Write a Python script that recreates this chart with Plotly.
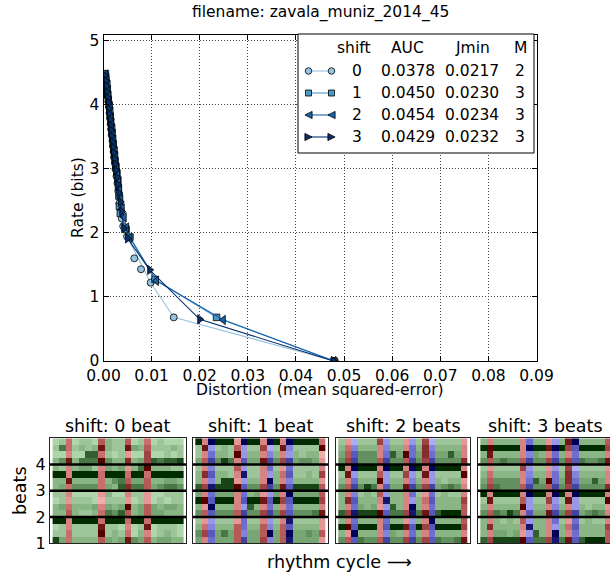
import plotly.graph_objects as go

W, H = 610, 573
FONT = "DejaVu Sans"

# ---------------- main chart data ----------------
shift_ids = [0, 1, 2, 3]
auc_vals = [0.0378, 0.0450, 0.0454, 0.0429]
jmin_vals = [0.0217, 0.0230, 0.0234, 0.0232]
m_vals = [2, 3, 3, 3]

D0 = [0.0004, 0.0005, 0.0006, 0.0008, 0.0009, 0.0011, 0.0012, 0.0013, 0.0014, 0.0015,
      0.0016, 0.0017, 0.0019, 0.0020, 0.0021, 0.0022, 0.0024, 0.0025, 0.0027, 0.0029,
      0.0031, 0.0033, 0.0036, 0.0038, 0.0041, 0.0049, 0.0098, 0.0146, 0.0481]
R0 = [4.47, 4.39, 4.31, 4.20, 4.12, 4.03, 3.95, 3.86, 3.78, 3.69,
      3.61, 3.52, 3.43, 3.34, 3.26, 3.17, 3.08, 2.99, 2.88, 2.77,
      2.64, 2.46, 2.34, 2.22, 2.10, 1.94, 1.22, 0.68, 0.00]
D0_extra = [0.0064, 0.0078]
R0_extra = [1.60, 1.43]

D1 = [0.0004, 0.0005, 0.0007, 0.0008, 0.0009, 0.0010, 0.0012, 0.0013, 0.0014, 0.0015,
      0.0017, 0.0018, 0.0019, 0.0020, 0.0022, 0.0023, 0.0024, 0.0026, 0.0028, 0.0030,
      0.0031, 0.0032, 0.0033, 0.0035, 0.0047, 0.0055, 0.0107, 0.0235, 0.0479]
R1 = [4.48, 4.40, 4.32, 4.24, 4.15, 4.07, 3.98, 3.90, 3.81, 3.73,
      3.64, 3.56, 3.47, 3.38, 3.29, 3.21, 3.12, 3.03, 2.93, 2.82,
      2.70, 2.57, 2.41, 2.30, 2.05, 1.93, 1.27, 0.68, 0.00]

D2 = [0.0004, 0.0006, 0.0007, 0.0008, 0.0010, 0.0011, 0.0012, 0.0013, 0.0015, 0.0016,
      0.0017, 0.0018, 0.0020, 0.0021, 0.0022, 0.0024, 0.0025, 0.0027, 0.0029, 0.0031,
      0.0033, 0.0036, 0.0039, 0.0043, 0.0048, 0.0055, 0.0110, 0.0249, 0.0479]
R2 = [4.46, 4.37, 4.29, 4.21, 4.13, 4.04, 3.96, 3.87, 3.79, 3.70,
      3.62, 3.53, 3.45, 3.36, 3.27, 3.19, 3.10, 3.01, 2.91, 2.79,
      2.66, 2.52, 2.38, 2.24, 2.08, 1.92, 1.25, 0.64, 0.00]

D3 = [0.0003, 0.0005, 0.0006, 0.0007, 0.0009, 0.0010, 0.0011, 0.0012, 0.0014, 0.0015,
      0.0016, 0.0017, 0.0019, 0.0020, 0.0021, 0.0023, 0.0024, 0.0026, 0.0028, 0.0030,
      0.0032, 0.0035, 0.0038, 0.0042, 0.0050, 0.0096, 0.0200, 0.0478]
R3 = [4.45, 4.36, 4.28, 4.19, 4.10, 4.02, 3.93, 3.85, 3.76, 3.67,
      3.59, 3.50, 3.41, 3.33, 3.24, 3.15, 3.06, 2.97, 2.86, 2.75,
      2.62, 2.48, 2.33, 2.07, 1.91, 1.42, 0.65, 0.00]

x_ticks = [0.00, 0.01, 0.02, 0.03, 0.04, 0.05, 0.06, 0.07, 0.08, 0.09]
y_ticks = [0, 1, 2, 3, 4, 5]

# ---------------- heatmap data (rows listed top -> bottom, digit = intensity 0..9) ----------------
panel_titles = ["shift: 0 beat", "shift: 1 beat", "shift: 2 beats", "shift: 3 beats"]
beat_ticks = [1, 2, 3, 4]

fam0 = "GGRGGGGRGGGRGGRGGGGG"
fam1 = "GRBGGGRBGGRBGRBGGGGR"
fam2 = "GRBGGGRBGGRBGRBGGGGR"
fam3 = "GRGGGGRBGGRBGRBGGGGR"

cells0 = [
    "1241221532" "2512412111",
    "2642323832" "2843522232",
    "1131177421" "2211611212",
    "3583666953" "3734676778",
    "3233442343" "4236933322",
    "9939999499" "9499499999",
    "3383333435" "6544533443",
    "3445555443" "7766545665",
    "2231111231" "1322211222",
    "1222221122" "2212212122",
    "3443334343" "4934543443",
    "3353223465" "7534544333",
    "9939999499" "9499499999",
    "1232222822" "1312812221",
    "2242222923" "2413312321",
    "8443333543" "4854534433",
]
cells1 = [
    "9399992999" "3993999994",
    "2822325222" "6128322229",
    "2343329233" "3333232331",
    "4565863544" "8656645542",
    "2332225222" "3422422223",
    "3753323822" "3234522326",
    "3333882233" "3933333332",
    "7688889555" "6658588885",
    "4344443434" "2243944445",
    "9959993599" "8596599996",
    "3293333273" "3433433333",
    "5555555655" "6656555568",
    "2222222422" "3223822222",
    "3433335433" "5335533332",
    "5654645344" "5945944545",
    "4344445644" "6345844442",
]
cells2 = [
    "2212226222" "2226122222",
    "3433333333" "3437333333",
    "4555553474" "9447444743",
    "5665555655" "5656655557",
    "9399993999" "3993999993",
    "2822225222" "6228222229",
    "3343339233" "3333232332",
    "5565863544" "8656645653",
    "3332325233" "3422423223",
    "3753333833" "3234533336",
    "3344342273" "3933433335",
    "7688889566" "6868579995",
    "3343333433" "2233933335",
    "9959993599" "8596599996",
    "3293333343" "3433433333",
    "5556555655" "6656565568",
]
cells3 = [
    "3333333433" "2238933335",
    "9999993999" "8996599996",
    "3833333343" "3433433333",
    "5556555655" "6656565568",
    "2222226222" "2226122222",
    "3433333333" "3437333333",
    "4555553474" "9447444743",
    "5665555655" "5656655557",
    "9399993999" "3993999993",
    "2822225222" "6228222229",
    "3333339233" "3333232332",
    "5565863544" "8656645653",
    "3332325233" "3422423223",
    "3733333833" "3234533336",
    "3344342273" "3933433335",
    "7688889566" "6868579995",
]

# ---------------- styles ----------------
colors = ['#94c4df', '#4a98c9', '#1764ab', '#08306b']
symbols = ['circle', 'square', 'triangle-left', 'triangle-right']
msizes = [7, 6.5, 8, 8]

greens = [[0, '#c2e5bd'], [0.5, '#6e9e6b'], [1, '#002c00']]
reds = [[0, '#ffc0c0'], [0.5, '#c26464'], [1, '#560000']]
blues = [[0, '#c2c2ff'], [0.5, '#6464c8'], [1, '#000056']]


def px(x):
    return x / W


def py(y):
    return 1 - y / H


fig = go.Figure()

# main chart traces
series = [(D0, R0), (D1, R1), (D2, R2), (D3, R3)]
for i, (dd, rr) in enumerate(series):
    fig.add_trace(go.Scatter(
        x=dd, y=rr, mode='lines+markers', xaxis='x', yaxis='y', showlegend=False,
        line=dict(color=colors[i], width=1.1),
        marker=dict(symbol=symbols[i], size=msizes[i], color=colors[i],
                    line=dict(color='black', width=0.8)),
        hoverinfo='skip'))
    if i == 0:
        fig.add_trace(go.Scatter(
            x=D0_extra, y=R0_extra, mode='markers', xaxis='x', yaxis='y', showlegend=False,
            marker=dict(symbol=symbols[0], size=msizes[0], color=colors[0],
                        line=dict(color='black', width=0.8)),
            hoverinfo='skip'))

# heatmaps
panels = [(fam0, cells0), (fam1, cells1), (fam2, cells2), (fam3, cells3)]
ncols = 20
nrows = 16
row_y = [5 - 0.125 - 0.25 * r for r in range(nrows)]
col_x = list(range(ncols))
for p, (fam, cells) in enumerate(panels):
    for key, cs in (('G', greens), ('R', reds), ('B', blues)):
        if key not in fam:
            continue
        z = [[int(ch) if fam[j] == key else None for j, ch in enumerate(row)] for row in cells]
        fig.add_trace(go.Heatmap(
            z=z, x=col_x, y=row_y, colorscale=cs, zmin=0, zmax=9, showscale=False,
            xaxis='x%d' % (p + 2), yaxis='y%d' % (p + 2), hoverinfo='skip'))

# ---------------- layout ----------------
main_x0, main_x1 = 103.5, 536.5
main_y0, main_y1 = 35, 361
axis_font = dict(family=FONT, size=15.5, color='black')

layout = dict(
    width=W, height=H, margin=dict(l=0, r=0, t=0, b=0, autoexpand=False),
    paper_bgcolor='white', plot_bgcolor='white', showlegend=False,
    xaxis=dict(domain=[px(main_x0), px(main_x1)], range=[0, 0.09], tickvals=x_ticks,
               tickformat='.2f', ticks='inside', ticklen=5, tickcolor='black',
               showline=True, linecolor='black', linewidth=1, mirror='ticks',
               showgrid=True, gridcolor='#444', gridwidth=0.8, griddash='1px,2px',
               zeroline=False, tickfont=axis_font, anchor='y', automargin=False),
    yaxis=dict(domain=[py(main_y1), py(main_y0)], range=[0, 5.08], tickvals=y_ticks,
               ticks='inside', ticklen=5, tickcolor='black',
               showline=True, linecolor='black', linewidth=1, mirror='ticks',
               showgrid=True, gridcolor='#444', gridwidth=0.8, griddash='1px,2px',
               zeroline=False, tickfont=axis_font, anchor='x', automargin=False),
)

hm_dom_x = [(50, 186), (192.7, 328.3), (335.7, 470.3), (477.7, 610)]
hm_ranges = [[-0.9, 19.9], [-0.9, 19.9], [-0.9, 19.9], [-0.9, 19.33]]
hm_y0, hm_y1 = 438.3, 543.3
for p in range(4):
    k = p + 2
    layout['xaxis%d' % k] = dict(
        domain=[px(hm_dom_x[p][0]), px(hm_dom_x[p][1])], range=hm_ranges[p],
        showticklabels=False, ticks='', showgrid=False, zeroline=False, automargin=False,
        showline=True, linecolor='#222', linewidth=1.2, mirror=True, anchor='y%d' % k)
    layout['yaxis%d' % k] = dict(
        domain=[py(hm_y1), py(hm_y0)], range=[1, 5], tickvals=beat_ticks,
        showticklabels=(p == 0), ticks='', showgrid=False, zeroline=False, automargin=False,
        tickfont=dict(family=FONT, size=16, color='black'),
        showline=True, linecolor='#222', linewidth=1.2, mirror=(p < 3), anchor='x%d' % k)

fig.update_layout(**layout)

shapes = []
for p in range(4):
    k = p + 2
    for b in [2, 3, 4]:
        shapes.append(dict(type='line', xref='x%d domain' % k, x0=0, x1=1,
                           yref='y%d' % k, y0=b, y1=b, line=dict(color='black', width=2.6),
                           layer='above'))

# legend box
lx0, lx1, ly0, ly1 = 298, 534, 34, 153
shapes.append(dict(type='rect', xref='paper', yref='paper', x0=px(lx0), x1=px(lx1),
                   y0=py(ly1), y1=py(ly0), fillcolor='white',
                   line=dict(color='black', width=1), layer='above'))
row_ys = [71, 93, 115, 137]
sx0, sx1 = 308.5, 331.5
for i in range(4):
    yy = row_ys[i]
    shapes.append(dict(type='line', xref='paper', yref='paper', x0=px(sx0), x1=px(sx1),
                       y0=py(yy), y1=py(yy), line=dict(color=colors[i], width=1.1), layer='above'))
    for cx in (sx0, sx1):
        mk = dict(xref='paper', yref='paper', fillcolor=colors[i],
                  line=dict(color='black', width=0.8), layer='above')
        if symbols[i] == 'circle':
            r = 3.3
            mk.update(type='circle', x0=px(cx - r), x1=px(cx + r), y0=py(yy + r), y1=py(yy - r))
        elif symbols[i] == 'square':
            r = 3.0
            mk.update(type='rect', x0=px(cx - r), x1=px(cx + r), y0=py(yy + r), y1=py(yy - r))
        elif symbols[i] == 'triangle-left':
            r = 3.6
            mk.update(type='path', path='M %f,%f L %f,%f L %f,%f Z' % (
                px(cx - r), py(yy), px(cx + r), py(yy - r), px(cx + r), py(yy + r)))
        else:
            r = 3.6
            mk.update(type='path', path='M %f,%f L %f,%f L %f,%f Z' % (
                px(cx + r), py(yy), px(cx - r), py(yy - r), px(cx - r), py(yy + r)))
        shapes.append(mk)

annotations = []


def ann(text, x, y, size, xanchor='center', angle=0):
    annotations.append(dict(text=text, x=px(x), y=py(y), xref='paper', yref='paper',
                            xanchor=xanchor, yanchor='middle', showarrow=False,
                            textangle=angle,
                            font=dict(family=FONT, size=size, color='black')))


ann("filename: zavala_muniz_2014_45", 320, 12, 15.5)
ann("Rate (bits)", 78, 198, 15.5, angle=-90)
ann("Distortion (mean squared-error)", 320, 390, 15.5)

leg_font = 15.5
ann("shift", 335, 48, leg_font, 'left')
ann("AUC", 389, 48, leg_font, 'left')
ann("Jmin", 453, 48, leg_font, 'left')
ann("M", 511.5, 48, leg_font, 'left')
for i in range(4):
    ann(str(shift_ids[i]), 349.5, row_ys[i], leg_font, 'left')
    ann("%.4f" % auc_vals[i], 379, row_ys[i], leg_font, 'left')
    ann("%.4f" % jmin_vals[i], 443, row_ys[i], leg_font, 'left')
    ann(str(m_vals[i]), 513, row_ys[i], leg_font, 'left')

hm_centers = [(a + b) / 2 for a, b in [(50, 186), (192.7, 328.3), (335.7, 470.3), (477.7, 613.7)]]
for p in range(4):
    ann(panel_titles[p], hm_centers[p], 426, 17.5)
ann("beats", 20, 491, 17.5, angle=-90)
ann("rhythm cycle \u27f6", 340, 562, 17.5)

fig.update_layout(shapes=shapes, annotations=annotations)
fig.write_html("out.html", config={'displayModeBar': False},
               post_script="document.body.style.margin='0';document.body.style.padding='0';")
